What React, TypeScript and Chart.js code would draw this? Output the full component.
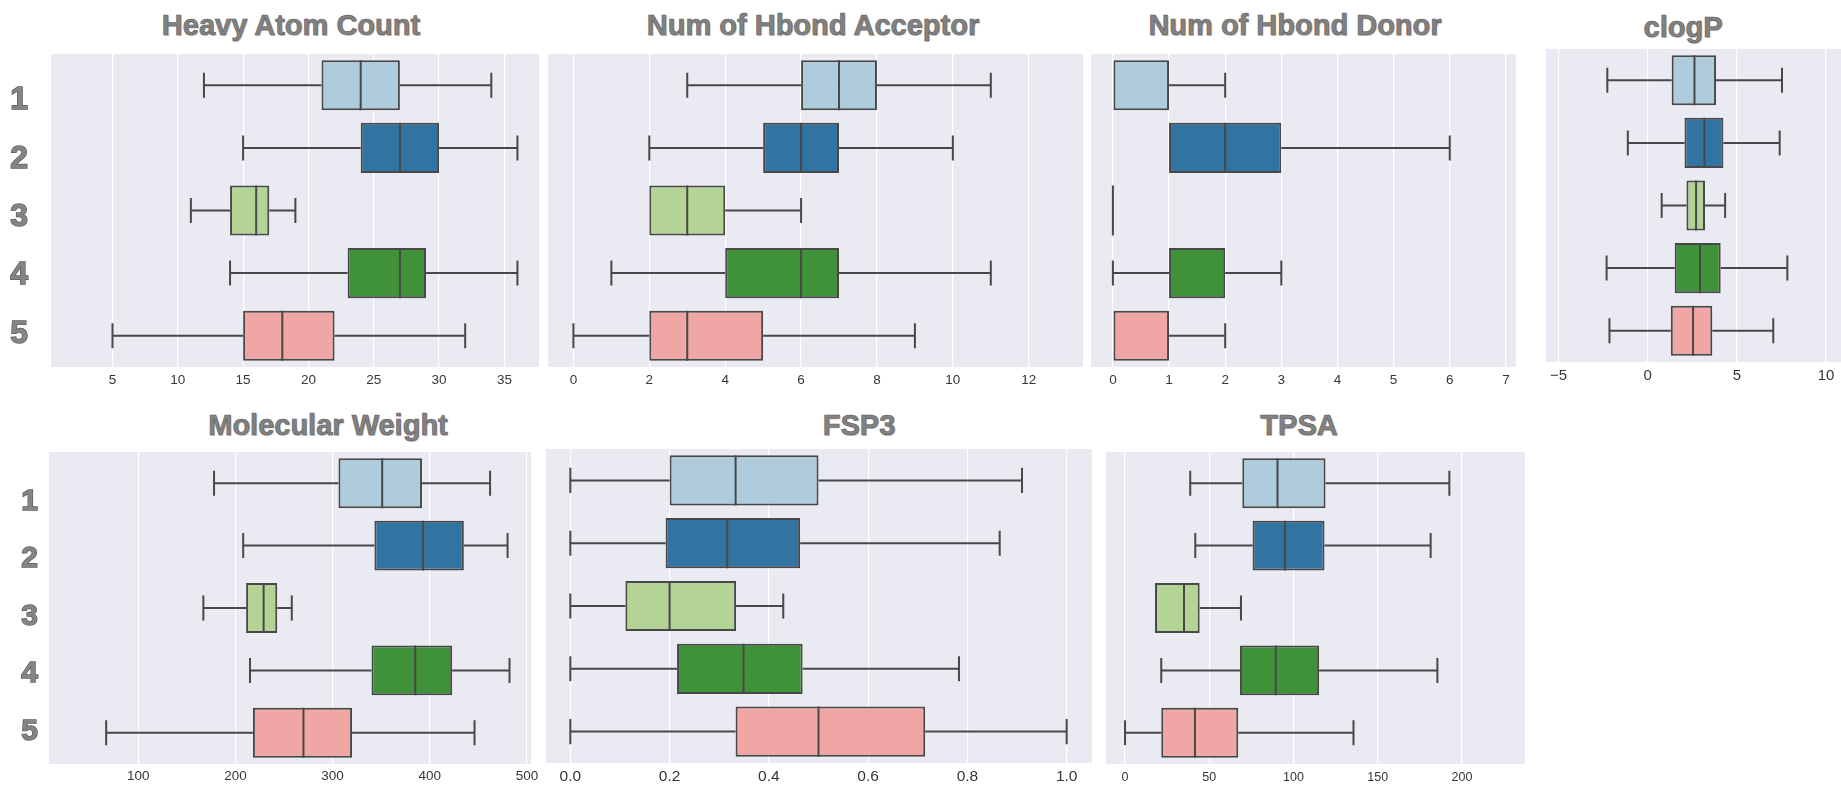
import React, { useEffect, useRef } from 'react';
import { Chart, registerables } from 'chart.js';

Chart.register(...registerables);

const FONT = '"Liberation Sans", Arial, Helvetica, sans-serif';

const categories = ['1', '2', '3', '4', '5'];
const boxColors = ['#aeccdb', '#3274a1', '#b3d495', '#40923a', '#efa6a5'];
const edgeColor = '#484848';

// Heavy Atom Count
const heavyLow = [12, 15, 11, 14, 5];
const heavyQ1 = [21, 24, 14, 23, 15];
const heavyMedian = [24, 27, 16, 27, 18];
const heavyQ3 = [27, 30, 17, 29, 22];
const heavyHigh = [34, 36, 19, 36, 32];
const heavyTicks = [5, 10, 15, 20, 25, 30, 35];

// Num of Hbond Acceptor
const accLow = [3, 2, 2, 1, 0];
const accQ1 = [6, 5, 2, 4, 2];
const accMedian = [7, 6, 3, 6, 3];
const accQ3 = [8, 7, 4, 7, 5];
const accHigh = [11, 10, 6, 11, 9];
const accTicks = [0, 2, 4, 6, 8, 10, 12];

// Num of Hbond Donor
const donLow = [0, 1, 0, 0, 0];
const donQ1 = [0, 1, 0, 1, 0];
const donMedian = [0, 2, 0, 2, 0];
const donQ3 = [1, 3, 0, 2, 1];
const donHigh = [2, 6, 0, 3, 2];
const donTicks = [0, 1, 2, 3, 4, 5, 6, 7];

// clogP
const logpLow = [-2.27, -1.12, 0.78, -2.31, -2.15];
const logpQ1 = [1.34, 2.06, 2.17, 1.51, 1.29];
const logpMedian = [2.62, 3.18, 2.71, 2.93, 2.54];
const logpQ3 = [3.83, 4.24, 3.21, 4.09, 3.62];
const logpHigh = [7.53, 7.4, 4.34, 7.83, 7.04];
const logpTicks = [-5, 0, 5, 10];

// Molecular Weight
const mwLow = [178, 208, 167, 215, 67];
const mwQ1 = [306, 343, 211, 340, 218];
const mwMedian = [351, 393, 229, 385, 270];
const mwQ3 = [392, 435, 243, 423, 320];
const mwHigh = [462, 480, 258, 482, 446];
const mwTicks = [100, 200, 300, 400, 500];

// FSP3
const fspLow = [0, 0, 0, 0, 0];
const fspQ1 = [0.2, 0.192, 0.111, 0.215, 0.333];
const fspMedian = [0.333, 0.316, 0.2, 0.349, 0.5];
const fspQ3 = [0.5, 0.463, 0.334, 0.468, 0.715];
const fspHigh = [0.91, 0.865, 0.429, 0.783, 1.0];
const fspTicks = [0, 0.2, 0.4, 0.6, 0.8, 1.0];

// TPSA
const tpsaLow = [38.7, 41.7, 17.8, 21.5, 0];
const tpsaQ1 = [69.6, 75.7, 17.8, 68.2, 21.5];
const tpsaMedian = [90.5, 94.9, 35, 89.5, 41.5];
const tpsaQ3 = [119, 118.4, 44.3, 115.2, 67.2];
const tpsaHigh = [192.5, 181.4, 68.8, 185.4, 135.6];
const tpsaTicks = [0, 50, 100, 150, 200];

const intFmt = (v: number) => String(Math.round(v));
const minusFmt = (v: number) => (v < 0 ? '\u2212' + String(Math.abs(v)) : String(v));
const oneDec = (v: number) => v.toFixed(1);

type YLab = { size: number; min: number; max: number; pad: number };
type PanelDef = {
  title: string;
  titleX: number;
  titleY: number;
  l: number; t: number; r: number; b: number;
  rightPad: number;
  xMin: number; xMax: number;
  ticks: number[];
  tickSize: number;
  tickPad: number;
  fmt: (v: number) => string;
  low: number[]; q1: number[]; med: number[]; q3: number[]; high: number[];
  yLab?: YLab;
};

const panels: PanelDef[] = [
  {
    title: 'Heavy Atom Count', titleX: 291, titleY: 25,
    l: 51.1, t: 54, r: 539.3, b: 366.7, rightPad: 16,
    xMin: 0.3, xMax: 37.65, ticks: heavyTicks, tickSize: 13.5, tickPad: 5, fmt: intFmt,
    low: heavyLow, q1: heavyQ1, med: heavyMedian, q3: heavyQ3, high: heavyHigh,
    yLab: { size: 32, min: 0.2, max: 5.569, pad: 23 },
  },
  {
    title: 'Num of Hbond Acceptor', titleX: 813, titleY: 25,
    l: 548, t: 54, r: 1083, b: 366.7, rightPad: 16,
    xMin: -0.67, xMax: 13.43, ticks: accTicks, tickSize: 13.5, tickPad: 5, fmt: intFmt,
    low: accLow, q1: accQ1, med: accMedian, q3: accQ3, high: accHigh,
  },
  {
    title: 'Num of Hbond Donor', titleX: 1295, titleY: 25,
    l: 1090.7, t: 54, r: 1516, b: 366.7, rightPad: 16,
    xMin: -0.39, xMax: 7.18, ticks: donTicks, tickSize: 13.5, tickPad: 5, fmt: intFmt,
    low: donLow, q1: donQ1, med: donMedian, q3: donQ3, high: donHigh,
  },
  {
    title: 'clogP', titleX: 1683, titleY: 27,
    l: 1545.7, t: 49, r: 1841, b: 362.3, rightPad: 0,
    xMin: -5.71, xMax: 10.84, ticks: logpTicks, tickSize: 15, tickPad: 4.4, fmt: minusFmt,
    low: logpLow, q1: logpQ1, med: logpMedian, q3: logpQ3, high: logpHigh,
  },
  {
    title: 'Molecular Weight', titleX: 328, titleY: 425,
    l: 48.9, t: 452.3, r: 531.1, b: 764, rightPad: 16,
    xMin: 8.1, xMax: 504.1, ticks: mwTicks, tickSize: 13.5, tickPad: 4.4, fmt: intFmt,
    low: mwLow, q1: mwQ1, med: mwMedian, q3: mwQ3, high: mwHigh,
    yLab: { size: 30, min: 0.139, max: 5.56, pad: 11 },
  },
  {
    title: 'FSP3', titleX: 859, titleY: 425,
    l: 545.5, t: 449.3, r: 1091.6, b: 762.7, rightPad: 16,
    xMin: -0.049, xMax: 1.051, ticks: fspTicks, tickSize: 15.5, tickPad: 4.7, fmt: oneDec,
    low: fspLow, q1: fspQ1, med: fspMedian, q3: fspQ3, high: fspHigh,
  },
  {
    title: 'TPSA', titleX: 1299, titleY: 425,
    l: 1105.7, t: 452.3, r: 1525, b: 764, rightPad: 16,
    xMin: -11.3, xMax: 237.4, ticks: tpsaTicks, tickSize: 12.5, tickPad: 5.8, fmt: intFmt,
    low: tpsaLow, q1: tpsaQ1, med: tpsaMedian, q3: tpsaQ3, high: tpsaHigh,
  },
];

const X_AXIS_H = 40;

function geometry(p: PanelDef) {
  const left = p.yLab ? 0 : Math.round(p.l);
  const top = Math.round(p.t);
  const width = Math.round(p.r) - left + p.rightPad;
  const height = Math.round(p.b) - top + X_AXIS_H;
  const yWidth = p.yLab ? p.l - left : 0;
  return { left, top, width, height, yWidth };
}

function makeBoxPlugin(p: PanelDef) {
  return {
    id: 'boxExtras',
    beforeDraw(chart: any) {
      const { ctx, chartArea: a } = chart;
      ctx.save();
      ctx.fillStyle = '#eaeaf2';
      ctx.fillRect(a.left, a.top, a.right - a.left, a.bottom - a.top);
      ctx.restore();
    },
    afterDatasetsDraw(chart: any) {
      const { ctx } = chart;
      const xs = chart.scales.x;
      const ys = chart.scales.y;
      const band = Math.abs(ys.getPixelForValue(1) - ys.getPixelForValue(0));
      const half = (band * 0.8) / 2;
      const cap = half / 2;
      ctx.save();
      ctx.strokeStyle = edgeColor;
      ctx.lineWidth = 2;
      ctx.lineCap = 'butt';
      p.low.forEach((lo, i) => {
        const yc = ys.getPixelForValue(i);
        const xLo = xs.getPixelForValue(lo);
        const xQ1 = xs.getPixelForValue(p.q1[i]);
        const xQ3 = xs.getPixelForValue(p.q3[i]);
        const xHi = xs.getPixelForValue(p.high[i]);
        const xMed = xs.getPixelForValue(p.med[i]);
        ctx.beginPath();
        if (lo < p.q1[i]) {
          ctx.moveTo(xLo, yc);
          ctx.lineTo(xQ1, yc);
          ctx.moveTo(xLo, yc - cap);
          ctx.lineTo(xLo, yc + cap);
        }
        if (p.high[i] > p.q3[i]) {
          ctx.moveTo(xQ3, yc);
          ctx.lineTo(xHi, yc);
          ctx.moveTo(xHi, yc - cap);
          ctx.lineTo(xHi, yc + cap);
        }
        const onEdge = p.q1[i] !== p.q3[i] && (p.med[i] === p.q1[i] || p.med[i] === p.q3[i]);
        if (!onEdge) {
          ctx.moveTo(xMed, yc - half);
          ctx.lineTo(xMed, yc + half);
        }
        ctx.stroke();
      });
      ctx.restore();
    },
  };
}

function buildConfig(p: PanelDef, yWidth: number): any {
  const scales: any = {
    x: {
      type: 'linear',
      position: 'bottom',
      min: p.xMin,
      max: p.xMax,
      bounds: 'data',
      beginAtZero: false,
      offset: false,
      afterBuildTicks: (s: any) => {
        s.ticks = p.ticks.map((v) => ({ value: v }));
      },
      afterFit: (s: any) => {
        s.height = X_AXIS_H;
        s.paddingLeft = 0;
        s.paddingRight = 0;
        s.paddingTop = 0;
        s.paddingBottom = 0;
      },
      grid: { color: '#ffffff', lineWidth: 1.2, drawTicks: false, offset: false },
      border: { display: false },
      ticks: {
        autoSkip: false,
        maxRotation: 0,
        minRotation: 0,
        padding: p.tickPad,
        color: '#363636',
        font: { family: FONT, size: p.tickSize },
        callback: (v: any) => p.fmt(Number(v)),
      },
    },
    y: {
      type: 'category',
      display: false,
      offset: true,
      grid: { display: false },
    },
  };
  if (p.yLab) {
    const yl = p.yLab;
    scales.yl = {
      type: 'linear',
      position: 'left',
      reverse: true,
      min: yl.min,
      max: yl.max,
      bounds: 'data',
      offset: false,
      beginAtZero: false,
      grace: 0,
      afterBuildTicks: (s: any) => {
        s.ticks = categories.map((_, i) => ({ value: i + 1 }));
      },
      afterFit: (s: any) => {
        s.width = yWidth;
        s.paddingTop = 0;
        s.paddingBottom = 0;
        s.paddingLeft = 0;
        s.paddingRight = 0;
      },
      grid: { display: false, drawTicks: false, offset: false },
      border: { display: false },
      ticks: {
        autoSkip: false,
        padding: yl.pad,
        color: '#858585',
        textStrokeColor: '#5c5c5c',
        textStrokeWidth: 1.4,
        font: { family: FONT, size: yl.size, weight: 'bold' },
        callback: (v: any) => categories[Math.round(Number(v)) - 1],
      },
    };
  }
  return {
    type: 'bar',
    data: {
      labels: categories,
      datasets: [
        {
          data: p.q1.map((v, i) => [v, p.q3[i]]),
          backgroundColor: boxColors,
          borderColor: edgeColor,
          borderWidth: 2,
          borderSkipped: false,
          barPercentage: 0.8,
          categoryPercentage: 1,
          xAxisID: 'x',
          yAxisID: 'y',
        },
      ],
    },
    options: {
      indexAxis: 'y',
      animation: false,
      responsive: false,
      maintainAspectRatio: false,
      events: [],
      layout: { padding: { left: 0, top: 0, bottom: 0, right: p.rightPad }, autoPadding: false },
      plugins: {
        legend: { display: false },
        tooltip: { enabled: false },
        title: { display: false },
      },
      scales,
    },
    plugins: [makeBoxPlugin(p)],
  };
}

function BoxPanel({ p }: { p: PanelDef }) {
  const ref = useRef<HTMLCanvasElement | null>(null);
  const g = geometry(p);
  useEffect(() => {
    if (!ref.current) return;
    const chart = new Chart(ref.current, buildConfig(p, g.yWidth));
    return () => chart.destroy();
  }, []);
  return (
    <canvas
      ref={ref}
      width={g.width}
      height={g.height}
      style={{ position: 'absolute', left: g.left, top: g.top, width: g.width, height: g.height }}
    />
  );
}

function PanelTitle({ p }: { p: PanelDef }) {
  const size = 29;
  return (
    <div
      style={{
        position: 'absolute',
        left: p.titleX - 300,
        top: p.titleY - 14.2,
        width: 600,
        textAlign: 'center',
        fontFamily: FONT,
        fontWeight: 'bold',
        fontSize: size,
        lineHeight: size + 'px',
        color: '#828282',
        WebkitTextStroke: '0.6px #5a5a5a',
        textShadow: '1px 1px 1px rgba(0,0,0,0.22)',
        whiteSpace: 'nowrap',
      }}
    >
      {p.title}
    </div>
  );
}

export default function App() {
  return (
    <div
      style={{
        position: 'fixed',
        left: 0,
        top: 0,
        width: 1841,
        height: 787,
        background: '#ffffff',
        overflow: 'hidden',
      }}
    >
      {panels.map((p) => (
        <BoxPanel key={'c' + p.title} p={p} />
      ))}
      {panels.map((p) => (
        <PanelTitle key={'t' + p.title} p={p} />
      ))}
    </div>
  );
}
